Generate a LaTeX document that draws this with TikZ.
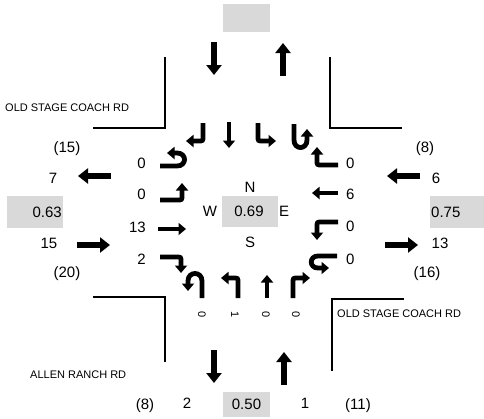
\documentclass[tikz,border=0pt]{standalone}
\usepackage{fontspec}
\setmainfont{Liberation Sans}
\usetikzlibrary{arrows.meta}
\definecolor{boxgray}{RGB}{217,217,217}
\begin{document}
\begin{tikzpicture}[x=1pt,y=-1pt,
  mv/.style={line width=4.8pt, -{Triangle[width=12pt,length=7.5pt]}},
  bigarr/.style={line width=6pt, -{Triangle[width=15pt,length=10pt]}},
  road/.style={line width=1.3pt},
  num/.style={font=\fontsize{15}{17}\selectfont, inner sep=0pt, text height=10.7pt, text depth=0pt},
  rot/.style={font=\fontsize{11}{13}\selectfont, inner sep=0pt, text height=7.9pt, text depth=0pt, rotate=-90},
  rd/.style={font=\fontsize{11}{13}\selectfont, inner sep=0pt, text height=7.9pt, text depth=0pt, anchor=west},
  gbox/.style={fill=boxgray, draw=none, inner sep=0pt, anchor=north west}
]
\useasboundingbox (0,0) rectangle (484,418);

% gray boxes
\node[gbox, minimum width=47pt, minimum height=28pt] (bn) at (223,4) {};
\node[gbox, minimum width=56pt, minimum height=32pt] (bw) at (7,196) {};
\node[gbox, minimum width=56pt, minimum height=31pt] (bc) at (222,196) {};
\node[gbox, minimum width=54pt, minimum height=32pt] (be) at (430,196) {};
\node[gbox, minimum width=47pt, minimum height=25pt] (bs) at (223,392) {};
\node[num, anchor=east] (tw) at (62,212) {0.63};
\node[num] (tc) at (249,211.5) {0.69};
\node[num, anchor=west] (te) at (431,212) {0.75};
\node[num] (ts) at (246.5,404.5) {0.50};

% road corners
\draw[road] (93,128) -- (165,128) -- (165,57);
\draw[road] (330,57) -- (330,128) -- (402,128);
\draw[road] (93,297) -- (165,297) -- (165,362);
\draw[road] (332,371) -- (332,299) -- (404,299);

% road names
\node[rd] (r1) at (5,108) {OLD STAGE COACH RD};
\node[rd] (r2) at (30,375) {ALLEN RANCH RD};
\node[rd] (r3) at (337,314) {OLD STAGE COACH RD};

% big approach / exit arrows
\draw[bigarr] (214,42) -- (214,75);
\draw[bigarr] (283,76) -- (283,43);
\draw[bigarr] (214,350) -- (214,383);
\draw[bigarr] (284,385) -- (284,352);
\draw[bigarr] (111,176) -- (78,176);
\draw[bigarr] (77,245) -- (110,245);
\draw[bigarr] (420,176) -- (387,176);
\draw[bigarr] (385,245) -- (418,245);

% outer numbers
\node[num] (w1) at (67,147) {(15)};
\node[num] (w2) at (53,178) {7};
\node[num] (w3) at (49,243) {15};
\node[num] (w4) at (67,272) {(20)};
\node[num] (e1) at (425,147) {(8)};
\node[num] (e2) at (436,178) {6};
\node[num] (e3) at (440,243) {13};
\node[num] (e4) at (427,272) {(16)};
\node[num] (s1) at (145,404) {(8)};
\node[num] (s2) at (187,403) {2};
\node[num] (s3) at (305,403) {1};
\node[num] (s4) at (358,404) {(11)};

% center compass
\node[num] (cn) at (250,187) {N};
\node[num] (cw) at (210,211.5) {W};
\node[num] (ce) at (284,211.5) {E};
\node[num] (cs) at (250,242) {S};

% west approach labels
\node[num, anchor=east] (wl1) at (146,163) {0};
\node[num, anchor=east] (wl2) at (146,194.5) {0};
\node[num, anchor=east] (wl3) at (146,227) {13};
\node[num, anchor=east] (wl4) at (146,259) {2};
% east approach labels
\node[num, anchor=west] (el1) at (346,163) {0};
\node[num, anchor=west] (el2) at (346,194.5) {6};
\node[num, anchor=west] (el3) at (346,226.5) {0};
\node[num, anchor=west] (el4) at (346,259) {0};
% south approach labels (rotated)
\node[rot] (sl1) at (202,315) {0};
\node[rot] (sl2) at (235,315) {1};
\node[rot] (sl3) at (266,315) {0};
\node[rot] (sl4) at (296,315) {0};

% southbound movements
\draw[mv] (203,123) -- (203,136) .. controls (203,141) .. (198,141) -- (186,141);
\draw[mv] (229,122) -- (229,148);
\draw[mv] (258,123) -- (258,136) .. controls (258,141) .. (263,141) -- (276,141);
\draw[mv] (294,124) -- (294,140) .. controls (294,150) and (307,150) .. (307,140) -- (307,129);

% west approach (eastbound) movements
\draw[mv] (160,166) -- (177,166) .. controls (187,166) and (187,153) .. (177,153) -- (167,153);
\draw[mv] (160,200) -- (177,200) .. controls (182,200) .. (182,195) -- (182,183);
\draw[mv] (158,229) -- (186,229);
\draw[mv] (160,257) -- (176,257) .. controls (181,257) .. (181,262) -- (181,273);

% northbound movements
\draw[mv] (202,298) -- (202,281) .. controls (202,271) and (188,271) .. (188,281) -- (188,291);
\draw[mv] (238,298) -- (238,283) .. controls (238,278) .. (233,278) -- (221,278);
\draw[mv] (267,298) -- (267,275);
\draw[mv] (293,298) -- (293,283) .. controls (293,278) .. (298,278) -- (310,278);

% east approach (westbound) movements
\draw[mv] (338,165) -- (322,165) .. controls (317,165) .. (317,160) -- (317,147);
\draw[mv] (338,193) -- (312,193);
\draw[mv] (338,222) -- (322,222) .. controls (317,222) .. (317,227) -- (317,240);
\draw[mv] (337,256) -- (318,256) .. controls (309,256) and (309,268) .. (318,268) -- (329,268);
\end{tikzpicture}
\end{document}
